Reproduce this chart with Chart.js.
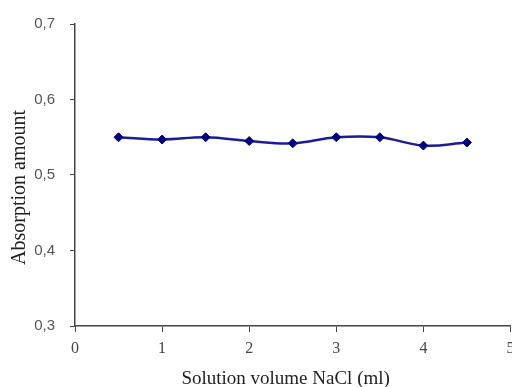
<!DOCTYPE html>
<html><head><meta charset="utf-8">
<script src="https://cdn.jsdelivr.net/npm/chart.js@4"></script>
<style>html,body{margin:0;padding:0;background:#fff;overflow:hidden}#w{width:516px;height:387px}</style>
</head><body><div id="w"><canvas id="c"></canvas></div>
<script>
const volumes = [0.5, 1, 1.5, 2, 2.5, 3, 3.5, 4, 4.5];
const absorption = [0.550, 0.547, 0.550, 0.545, 0.542, 0.550, 0.550, 0.539, 0.543];
const xTicks = [0, 1, 2, 3, 4, 5];
const yTicks = [0.3, 0.4, 0.5, 0.6, 0.7];
const xTitle = 'Solution volume NaCl (ml)\u00a0\u00a0\u00a0';
const yTitle = 'Absorption amount\u00a0\u00a0\u00a0\u00a0\u00a0';
const fmt = v => Number(v).toFixed(1).replace('.', ',');
const fmtX = v => String(v);
new Chart(document.getElementById('c'), {
  type: 'line',
  data: { datasets: [{
    data: volumes.map((x, i) => ({x, y: absorption[i]})),
    borderColor: '#1c1c94', borderWidth: 2.5, tension: 0.4,
    pointStyle: 'rectRot', pointRadius: 4.5, pointBackgroundColor: '#000080', pointBorderColor: '#000080', pointBorderWidth: 1
  }]},
  options: {
    responsive: true, maintainAspectRatio: false, animation: false,
    layout: { padding: { top: 22, right: 0, left: 8, bottom: 0 } },
    plugins: { legend: { display: false }, tooltip: { enabled: false } },
    scales: {
      x: { type: 'linear', min: xTicks[0], max: xTicks[xTicks.length - 1],
        afterBuildTicks: s => { s.ticks = xTicks.map(v => ({value: v})); },
        afterFit: s => { s.height = 61; s.paddingRight = 0; s.paddingLeft = 0; },
        ticks: { callback: fmtX, color: '#444', font: { family: 'Liberation Serif', size: 16 }, padding: 7, maxRotation: 0 },
        grid: { drawOnChartArea: false, tickLength: 6, color: '#444' },
        border: { color: '#444', width: 1.5 },
        title: { display: true, text: xTitle, color: '#222', font: { family: 'Liberation Serif', size: 19, lineHeight: 0.85 }, padding: { top: 5, bottom: 0 } } },
      y: { min: yTicks[0], max: yTicks[yTicks.length - 1],
        afterBuildTicks: s => { s.ticks = yTicks.map(v => ({value: v})); },
        afterFit: s => { s.width = 67; },
        ticks: { callback: fmt, color: '#555', font: { family: 'Liberation Sans', size: 15 }, padding: 15 },
        grid: { drawOnChartArea: false, tickLength: 5, color: '#444' },
        border: { color: '#444', width: 1.5 },
        title: { display: true, text: yTitle, color: '#222', font: { family: 'Liberation Serif', size: 20, lineHeight: 1.2 }, padding: { top: 0, bottom: 2 } } }
    }
  }
});
</script></body></html>
